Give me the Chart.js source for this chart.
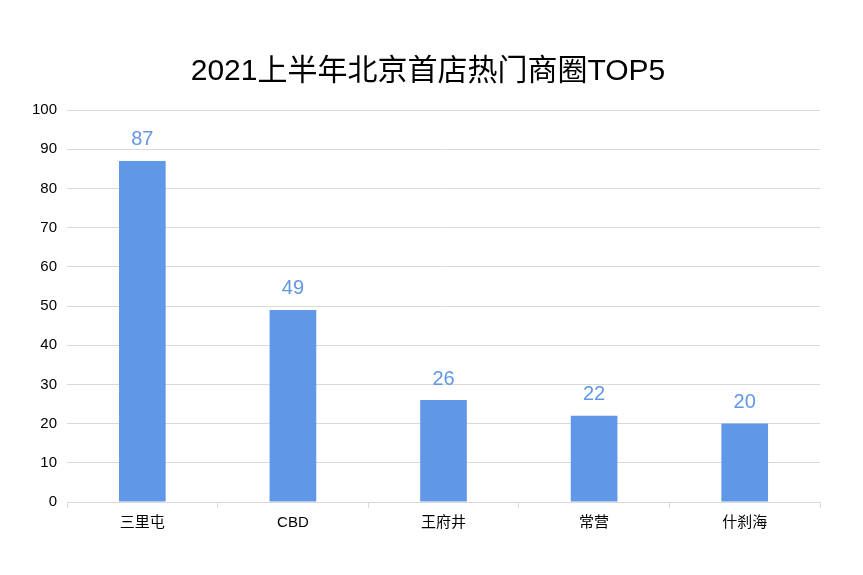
<!DOCTYPE html>
<html>
<head>
<meta charset="utf-8">
<script src="https://cdn.jsdelivr.net/npm/chart.js@4"></script>
<style>
  body { margin: 0; background: #fff; }
</style>
</head>
<body>
<canvas id="myChart" width="863" height="575"></canvas>
<script>
const ctx = document.getElementById('myChart');

const categories = ['三里屯', 'CBD', '王府井', '常营', '什刹海'];
const values = [87, 49, 26, 22, 20];
const yTicks = [0, 10, 20, 30, 40, 50, 60, 70, 80, 90, 100];
const titleText = '2021上半年北京首店热门商圈TOP5';

const fontFamily = '"Liberation Sans", "Noto Sans CJK SC", sans-serif';
const barColor = '#6097e6';

// title centred on the page, and value labels above each bar
const extras = {
  id: 'extras',
  afterDatasetsDraw(chart) {
    const c = chart.ctx;
    const meta = chart.getDatasetMeta(0);
    c.save();
    c.fillStyle = '#000';
    c.font = '30px ' + fontFamily;
    c.textAlign = 'center';
    c.textBaseline = 'middle';
    c.fillText(titleText, 428, 72);

    c.fillStyle = barColor;
    c.font = '20px ' + fontFamily;
    c.textBaseline = 'bottom';
    meta.data.forEach((bar, i) => {
      c.fillText(values[i], bar.x, bar.y - 11);
    });
    c.restore();
  }
};

new Chart(ctx, {
  type: 'bar',
  data: {
    labels: categories,
    datasets: [{
      data: values,
      backgroundColor: barColor,
      barPercentage: 0.62,
      categoryPercentage: 0.5
    }]
  },
  options: {
    responsive: false,
    animation: false,
    layout: {
      padding: { left: 22, right: 43, top: 110, bottom: 37 }
    },
    plugins: {
      legend: { display: false },
      tooltip: { enabled: false },
      title: { display: false }
    },
    scales: {
      x: {
        grid: {
          display: true,
          drawOnChartArea: false,
          drawTicks: true,
          tickLength: 6,
          offset: true,
          color: '#d9d9d9'
        },
        border: { color: '#d9d9d9' },
        ticks: {
          color: '#000',
          font: { family: fontFamily, size: 15 },
          padding: 6
        }
      },
      y: {
        min: 0,
        max: 100,
        afterBuildTicks(axis) {
          axis.ticks = yTicks.map(v => ({ value: v }));
        },
        grid: { color: '#d9d9d9', drawTicks: false },
        border: { display: false },
        ticks: {
          color: '#000',
          font: { family: fontFamily, size: 15 },
          padding: 10
        }
      }
    }
  },
  plugins: [extras]
});
</script>
</body>
</html>
